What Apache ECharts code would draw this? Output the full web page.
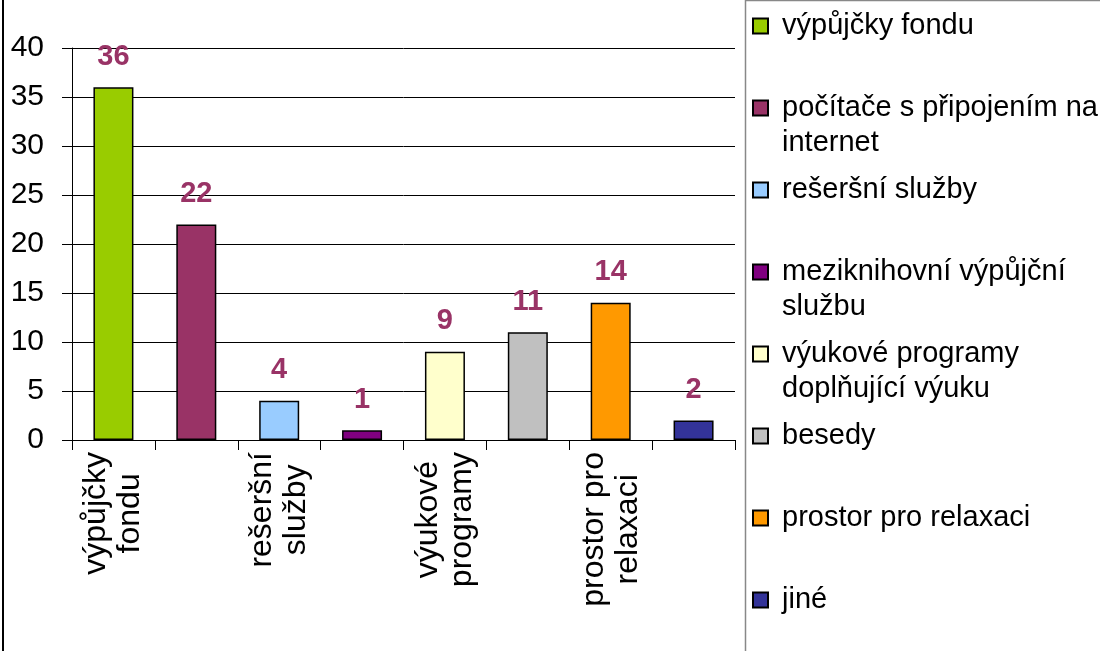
<!DOCTYPE html>
<html>
<head>
<meta charset="utf-8">
<script src="https://cdn.jsdelivr.net/npm/echarts@6/dist/echarts.min.js"></script>
<style>
html,body{margin:0;padding:0;background:#fff;}
#chart{width:1100px;height:651px;}
</style>
</head>
<body>
<div id="chart"></div>
<script>
// ---- data ----
const categories = ['výpůjčky fondu', 'počítače s připojením na internet', 'rešeršní služby', 'meziknihovní výpůjční službu', 'výukové programy', 'besedy', 'prostor pro relaxaci', 'jiné'];
const seriesNames = ['výpůjčky fondu', 'počítače s připojením na internet', 'rešeršní služby', 'meziknihovní výpůjční službu', 'výukové programy doplňující výuku', 'besedy', 'prostor pro relaxaci', 'jiné'];
const values = [36, 22, 4, 1, 9, 11, 14, 2];
const colors = ['#99CC00', '#993366', '#99CCFF', '#800080', '#FFFFCC', '#C0C0C0', '#FF9900', '#333399'];
const yMin = 0, yMax = 40, yStep = 5;

// ---- layout helpers ----
const FONT = '"Liberation Sans", Arial, sans-serif';
function wrap(text, maxChars) {
  const words = text.split(' ');
  const lines = [];
  let cur = '';
  words.forEach(w => {
    if (cur === '') cur = w;
    else if ((cur + ' ' + w).length <= maxChars) cur += ' ' + w;
    else { lines.push(cur); cur = w; }
  });
  if (cur) lines.push(cur);
  return lines;
}
function splitLast(text) {
  const i = text.lastIndexOf(' ');
  if (i < 0) return [text];
  return [text.slice(0, i), text.slice(i + 1)];
}

const series = seriesNames.map((name, i) => ({
  name: name,
  type: 'bar',
  stack: 'all',
  barWidth: 40,
  data: values.map((v, j) => (j === i ? v : '-')),
  itemStyle: { color: colors[i], borderColor: '#000', borderWidth: 1.5 },
  label: {
    show: true, position: 'top', distance: 16,
    color: '#993366', fontWeight: 'bold', fontSize: 29, fontFamily: FONT
  },
  animation: false
}));

const LINE_H = 35;
const legends = seriesNames.map((name, i) => {
  const lines = wrap(name, 24);
  const n = lines.length;
  // blank leading lines keep the first text line level with the icon
  const textLines = new Array(n - 1).fill('').concat(lines);
  const blockH = textLines.length * LINE_H;
  const centerY = 26 + i * 82;
  return {
    orient: 'vertical',
    left: 752,
    top: centerY - blockH / 2,
    padding: 0,
    itemWidth: 15,
    itemHeight: 15,
    icon: 'rect',
    data: [name],
    formatter: () => textLines.join('\n'),
    textStyle: {
      fontSize: 29, fontFamily: FONT, color: '#000',
      lineHeight: LINE_H, padding: [0, 0, 0, 9]
    }
  };
});

const chart = echarts.init(document.getElementById('chart'), null, { renderer: 'canvas' });
chart.setOption({
  backgroundColor: '#fff',
  animation: false,
  grid: { left: 72, right: 365, top: 48, bottom: 211, containLabel: false },
  legend: legends,
  xAxis: {
    type: 'category',
    data: categories,
    axisLine: { show: true, lineStyle: { color: '#000', width: 1 } },
    axisTick: { show: true, interval: 0, length: 10, lineStyle: { color: '#000' } },
    axisLabel: {
      interval: 1,
      rotate: 90,
      margin: 12,
      color: '#000',
      fontSize: 32,
      fontFamily: FONT,
      lineHeight: 34,
      formatter: v => splitLast(v).map(l => '{c|' + l + '}').join('\n'),
      rich: { c: { align: 'center', fontSize: 32, fontFamily: FONT, lineHeight: 34, color: '#000' } }
    }
  },
  yAxis: {
    type: 'value',
    min: yMin, max: yMax, interval: yStep,
    axisLine: { show: true, lineStyle: { color: '#000', width: 1 } },
    axisTick: { show: true, length: 10, lineStyle: { color: '#000' } },
    axisLabel: { margin: 28, color: '#000', fontSize: 30, fontFamily: FONT },
    splitLine: { show: true, lineStyle: { color: '#000', width: 1 } }
  },
  series: series,
  graphic: [
    { type: 'rect', shape: { x: 3, y: -5, width: 1200, height: 700 }, style: { fill: 'none', stroke: '#000', lineWidth: 2 }, silent: true, z: -1 },
    { type: 'rect', shape: { x: 745.5, y: 0.5, width: 400, height: 700 }, style: { fill: '#fff', stroke: '#888', lineWidth: 1.5 }, silent: true, z: -1 }
  ]
});
</script>
</body>
</html>
